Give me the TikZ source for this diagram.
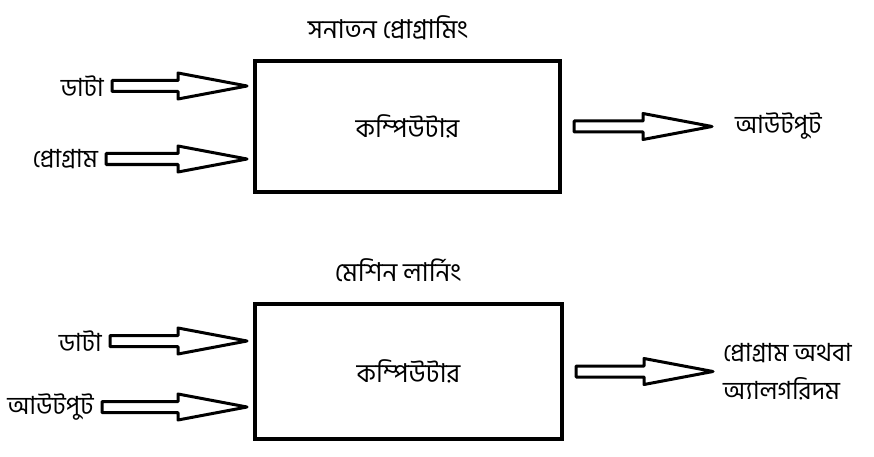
\documentclass[tikz,border=0pt]{standalone}
\usepackage{fontspec}
\newfontfamily\bnfont[Script=Bengali]{Hind Siliguri}
\usetikzlibrary{positioning, calc}

\begin{document}
\begin{tikzpicture}[
    x=1pt, y=-1pt,
    lbl/.style={font=\bnfont\fontsize{25}{38}\selectfont, inner sep=8pt},
    comp/.style={rectangle, draw, line width=4.5pt, outer sep=8pt,
        font=\bnfont\fontsize{26}{32}\selectfont},
    title/.style={font=\bnfont\fontsize{26}{32}\selectfont},
    harrow/.style={draw, line width=3pt, line join=round,
        to path={($(\tikztostart)+(0,-5.5)$) -- ($(\tikztotarget)+(-69,-5.5)$)
            -- ($(\tikztotarget)+(-69,-13)$) -- (\tikztotarget)
            -- ($(\tikztotarget)+(-69,13)$) -- ($(\tikztotarget)+(-69,5.5)$)
            -- ($(\tikztostart)+(0,5.5)$) -- cycle}}
]
\useasboundingbox (0,0) rectangle (874,457);

% Traditional programming
\node[comp, minimum width=305pt, minimum height=131pt] (comp1) at (407.5,126.5) {কম্পিউটার};
\node[title] (title1) at (388,28) {সনাতন প্রোগ্রামিং};
\node[lbl, anchor=east] (data1) at (112,86) {ডাটা};
\node[lbl, anchor=east] (prog1) at (106,159) {প্রোগ্রাম};
\node[lbl, anchor=west] (out1) at (727,126.5) {আউটপুট};

\draw[harrow] (data1.east) to (comp1.west |- data1.east);
\draw[harrow] (prog1.east) to (comp1.west |- prog1.east);
\draw[harrow] ([xshift=6pt]comp1.east) to ([xshift=-15pt]out1.west);

% Machine learning
\node[comp, minimum width=307pt, minimum height=135pt] (comp2) at (408.5,371.5) {কম্পিউটার};
\node[title] (title2) at (398,270) {মেশিন লার্নিং};
\node[lbl, anchor=east] (data2) at (110,341) {ডাটা};
\node[lbl, anchor=east] (out2) at (102,407) {আউটপুট};
\node[lbl, anchor=west, align=left] (res2) at (715,371.5) {প্রোগ্রাম অথবা\\অ্যালগরিদম};

\draw[harrow] ([xshift=6pt]comp2.east) to ([xshift=-2pt]res2.west);
\draw[harrow] (data2.east) to (comp2.west |- data2.east);
\draw[harrow] (out2.east) to (comp2.west |- out2.east);

\end{tikzpicture}
\end{document}
